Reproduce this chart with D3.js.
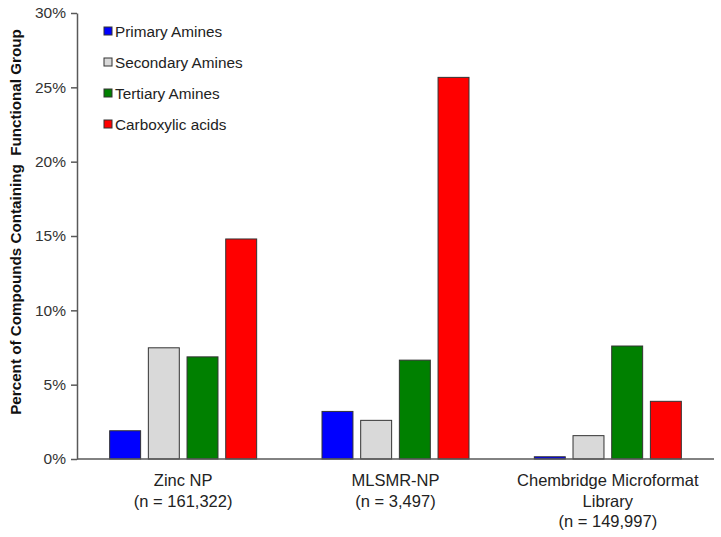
<!DOCTYPE html>
<html><head><meta charset="utf-8">
<script src="https://cdn.jsdelivr.net/npm/d3@7"></script>
<style>body{margin:0;background:#fff}svg{display:block}text{font-family:Arial,"Liberation Sans",sans-serif}</style>
</head><body><svg id="c" width="721" height="537"></svg>
<script>
const categories = [["Zinc NP","(n = 161,322)"],["MLSMR-NP","(n = 3,497)"],["Chembridge Microformat","Library","(n = 149,997)"]];
const seriesNames = ["Primary Amines","Secondary Amines","Tertiary Amines","Carboxylic acids"];
const colors = ["#0000FF","#D9D9D9","#008000","#FF0000"];
const primary = [1.9, 3.2, 0.15];
const secondary = [7.48, 2.6, 1.57];
const tertiary = [6.87, 6.65, 7.6];
const carboxylic = [14.8, 25.67, 3.88];
const yTicks = [0,5,10,15,20,25,30];
const series = [primary, secondary, tertiary, carboxylic];

const svg = d3.select("#c");
const m = {l:77, r:7, t:13, b:78};
const W = 721, H = 537;
const x0 = d3.scaleBand().domain(d3.range(categories.length)).range([m.l, W-m.r]);
const y = d3.scaleLinear().domain([0,30]).range([H-m.b, m.t]);
const groupW = 147;
const x1 = d3.scaleBand().domain(d3.range(series.length)).range([0, groupW]).paddingInner(0.2).paddingOuter(0);
const axisColor = "#595959";

// bars
categories.forEach((c,i)=>{
  const gx = x0(i) + (x0.bandwidth()-groupW)/2;
  series.forEach((s,j)=>{
    svg.append("rect")
      .attr("x", gx + x1(j)).attr("width", x1.bandwidth())
      .attr("y", y(s[i])).attr("height", y(0)-y(s[i]))
      .attr("fill", colors[j]).attr("stroke","#333").attr("stroke-width",1);
  });
});

// y axis
const ya = svg.append("g").attr("transform",`translate(${m.l},0)`)
  .call(d3.axisLeft(y).tickValues(yTicks).tickFormat(d=>d+"%").tickSize(6).tickSizeOuter(0));
ya.select(".domain").attr("stroke",axisColor).attr("stroke-width",1.5);
ya.selectAll(".tick line").attr("stroke",axisColor).attr("stroke-width",1.5);
ya.selectAll(".tick text").attr("font-size",15.5).attr("fill","#333").attr("x",-11);

// x axis line
svg.append("line").attr("x1",m.l).attr("x2",W-m.r).attr("y1",y(0)).attr("y2",y(0))
  .attr("stroke",axisColor).attr("stroke-width",1.5);

// x labels
categories.forEach((c,i)=>{
  const t = svg.append("text").attr("text-anchor","middle").attr("font-size",16.5).attr("fill","#222");
  c.forEach((line,k)=>{
    t.append("tspan").attr("x", x0(i)+x0.bandwidth()/2).attr("y", 486 + k*20.5).text(line);
  });
});

// y title
svg.append("text").attr("transform",`translate(21,222) rotate(-90)`)
  .attr("text-anchor","middle").attr("font-size",15.2).attr("font-weight","bold").attr("fill","#111")
  .style("white-space","pre")
  .text("Percent of Compounds Containing  Functional Group");

// legend
seriesNames.forEach((n,j)=>{
  const ly = 31 + j*31;
  svg.append("rect").attr("x",104).attr("y",ly-4).attr("width",8).attr("height",8)
    .attr("fill",colors[j]).attr("stroke","#333").attr("stroke-width",1);
  svg.append("text").attr("x",115).attr("y",ly+5.5).attr("font-size",15.3).attr("fill","#222").text(n);
});
</script></body></html>
